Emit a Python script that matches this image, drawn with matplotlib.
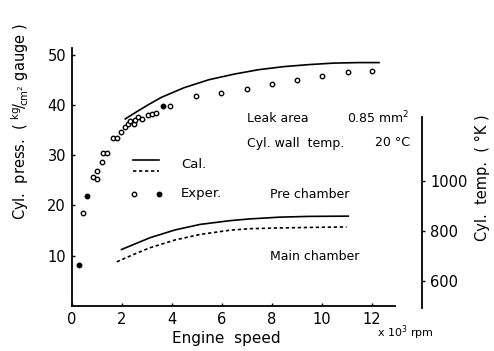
import matplotlib.pyplot as plt
import numpy as np

# Experimental cylinder pressure (kg/cm2 gauge) vs engine speed (x 10^3 rpm)
exp_open_x = [0.45, 0.87, 1.03, 1.01, 1.21, 1.25, 1.41, 1.67, 1.83, 1.97, 2.14, 2.27, 2.34,
              2.50, 2.54, 2.67, 2.81, 3.07, 3.21, 3.37, 3.94, 4.98, 5.97, 7.0, 8.03, 9.02,
              10.03, 11.05, 12.02]
exp_open_y = [18.5, 25.6, 25.2, 26.8, 28.7, 30.4, 30.5, 33.5, 33.5, 34.6, 35.6, 36.2, 36.7,
              36.2, 37.0, 37.6, 37.2, 37.9, 38.1, 38.3, 39.7, 41.7, 42.3, 43.2, 44.2, 44.9,
              45.8, 46.6, 46.8]
exp_fill_x = [0.30, 0.61, 3.65]
exp_fill_y = [8.1, 21.8, 39.7]

# Calculated pressure
cal_p_x = [2.15, 2.6, 3.1, 3.6, 4.5, 5.5, 6.5, 7.5, 8.5, 9.5, 10.5, 11.5, 12.3]
cal_p_y = [37.2, 38.6, 40.1, 41.5, 43.4, 45.0, 46.1, 47.0, 47.6, 48.0, 48.3, 48.4, 48.4]

# Calculated cylinder temperature (K)
temp_solid_x = [2.0, 3.14, 4.14, 5.14, 6.34, 7.14, 8.34, 9.5, 11.07]
temp_solid_y = [727, 774, 805, 827, 842, 849, 856, 859, 860]
temp_dot_x = [1.81, 2.5, 3.14, 4.14, 5.14, 6.34, 7.14, 8.34, 9.5, 11.0]
temp_dot_y = [678, 708, 734, 765, 787, 804, 810, 813, 815, 817]

W, H = 494, 351
fig = plt.figure(figsize=(W / 100, H / 100), dpi=100)
plt.rcParams['font.family'] = 'DejaVu Sans'

def fx(px):
    return px / W

def fy(py):
    return 1 - py / H

# main pressure axes
ax = fig.add_axes([fx(71.5), fy(306), fx(395) - fx(71.5), fy(48) - fy(306)])
ax.set_xlim(0, 12.94)
ax.set_ylim(0, 51.3)
for s in ['top', 'right']:
    ax.spines[s].set_visible(False)
for s in ['left', 'bottom']:
    ax.spines[s].set_linewidth(1.3)
ax.set_xticks([0, 2, 4, 6, 8, 10, 12])
ax.set_yticks([10, 20, 30, 40, 50])
ax.tick_params(direction='in', length=2, width=1, labelsize=10.5, pad=4)
ax.patch.set_alpha(0)

ax.plot(cal_p_x, cal_p_y, color='black', lw=1.2)
ax.plot(exp_open_x, exp_open_y, 'o', ms=3.2, mfc='white', mec='black', mew=1.0)
ax.plot(exp_fill_x, exp_fill_y, 'o', ms=3.2, color='black')

# temperature axes with its own right spine
ax2 = fig.add_axes([fx(71.5), fy(308), fx(422) - fx(71.5), fy(117) - fy(308)])
ax2.patch.set_alpha(0)
ax2.set_xlim(0, (422 - 71.5) / 25)
ax2.set_ylim(494, 1255)
for s in ['top', 'left', 'bottom']:
    ax2.spines[s].set_visible(False)
ax2.spines['right'].set_linewidth(1.3)
ax2.set_xticks([])
ax2.yaxis.tick_right()
ax2.set_yticks([600, 800, 1000])
ax2.tick_params(direction='out', length=2, width=1, labelsize=10.5, pad=4)

ax2.plot(temp_solid_x, temp_solid_y, color='black', lw=1.2)
ax2.plot(temp_dot_x, temp_dot_y, color='black', lw=1.2, linestyle=(0, (2, 1.6)))

# axis labels
fig.text(fx(20), fy(122), r'Cyl.  press.  ( $^{\mathrm{kg}}\!/\!_{\mathrm{cm^2}}$ gauge )',
         rotation=90, ha='center', va='center', fontsize=10.5)
fig.text(fx(482), fy(178), 'Cyl.  temp.  ( °K )', rotation=90, ha='center', va='center', fontsize=10.5)
fig.text(fx(226), fy(339), 'Engine  speed', ha='center', va='center', fontsize=11)
fig.text(fx(377), fy(333), r'x 10$^3$ rpm', ha='left', va='center', fontsize=8)

# annotations
fig.text(fx(247), fy(118), 'Leak area', ha='left', va='center', fontsize=9)
fig.text(fx(347), fy(118), r'0.85 mm$^2$', ha='left', va='center', fontsize=9)
fig.text(fx(247), fy(143), 'Cyl. wall  temp.', ha='left', va='center', fontsize=9)
fig.text(fx(375), fy(143), '20 °C', ha='left', va='center', fontsize=9)
fig.text(fx(270), fy(194), 'Pre chamber', ha='left', va='center', fontsize=9)
fig.text(fx(270), fy(257), 'Main chamber', ha='left', va='center', fontsize=9)

# hand-made legend
fig.add_artist(plt.Line2D([fx(133), fx(159)], [fy(160.5), fy(160.5)], color='black', lw=1.2))
fig.add_artist(plt.Line2D([fx(133), fx(159)], [fy(171), fy(171)], color='black', lw=1.2,
                          linestyle=(0, (2, 1.6))))
fig.text(fx(181), fy(165), 'Cal.', ha='left', va='center', fontsize=9.5)
fig.add_artist(plt.Line2D([fx(133.5)], [fy(193.5)], marker='o', ms=3.2, mfc='white', mec='black', mew=1.0))
fig.add_artist(plt.Line2D([fx(159)], [fy(193.5)], marker='o', ms=3.2, color='black'))
fig.text(fx(181), fy(194), 'Exper.', ha='left', va='center', fontsize=9.5)

fig.savefig('out.png', dpi=100)
